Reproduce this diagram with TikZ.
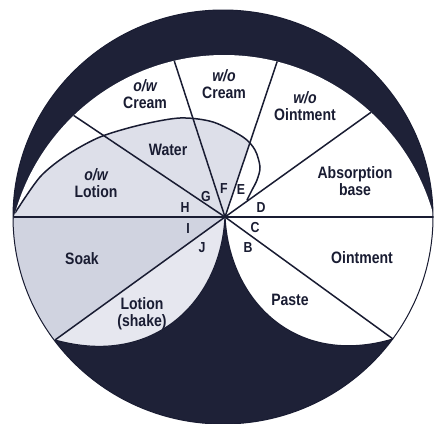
\documentclass[tikz,border=0pt]{standalone}
\usepackage{fontspec}
\setmainfont{Liberation Sans}
\newfontfamily\labfont[FakeStretch=0.85]{Liberation Sans}
\usetikzlibrary{calc}
\definecolor{ink}{RGB}{25,28,50}
\definecolor{darkfill}{RGB}{30,33,55}
\definecolor{shadeA}{RGB}{221,223,233}
\definecolor{shadeB}{RGB}{208,211,224}
\definecolor{shadeC}{RGB}{230,231,239}
\begin{document}
\begin{tikzpicture}[x=1pt,y=-1pt,
  lab/.style={font=\labfont\bfseries\fontsize{16.5}{17}\selectfont, text=ink, align=center, inner sep=0pt},
  letter/.style={font=\labfont\bfseries\fontsize{14.5}{15}\selectfont, text=ink, inner sep=0pt},
  spoke/.style={draw=ink, line width=1.5pt},
  edge/.style={draw=ink, line width=1.2pt},
]
\useasboundingbox (0,0) rectangle (435,423);
\fill[white] (0,0) rectangle (435,423);
\coordinate (O) at (225,217);
\coordinate (C) at (223,217);
\coordinate (IC) at (224,272);
\coordinate (LL) at (55,340);
\coordinate (LR) at (393,339);
% dark disc
\fill[darkfill] (C) ellipse [x radius=210pt, y radius=207pt];
\begin{scope}
  \clip (C) ellipse [x radius=210pt, y radius=207pt];
  \clip (IC) circle [radius=217pt];
  % white area
  \fill[white] (0,0) -- (435,0) -- (435,339) -- (LR) .. controls (295,368) and (229,300) .. (O)
     .. controls (221,300) and (155,368) .. (LL) -- (0,340) -- cycle;
  % Soak
  \fill[shadeB] (0,217) -- (O) -- (LL) -- (0,340) -- cycle;
  % Lotion (shake)
  \fill[shadeC] (O) .. controls (221,300) and (155,368) .. (LL) -- cycle;
  % water / o/w lotion
  \begin{scope}
    \clip (O) -- (298,0) -- (0,0) -- (0,217) -- cycle;
    \fill[shadeA] plot[smooth] coordinates {(15,213) (40,177) (67,155) (100,137) (140,125) (180,118) (213,122) (243,137) (255,150) (260,167) (257,180) (252,190) (247,200)} -- (O) -- (0,217) -- cycle;
  \end{scope}
  % spokes
  \draw[spoke] (0,217) -- (435,217);
  \draw[spoke] (O) -- ($(O)!1.2!(73,115)$);
  \draw[spoke] (O) -- ($(O)!1.2!(370,113)$);
  \draw[spoke] (O) -- ($(O)!1.2!(173,57)$);
  \draw[spoke] (O) -- ($(O)!1.2!(277,62)$);
  \draw[spoke] (O) -- (LL);
  \draw[spoke] (O) -- (LR);
  % water curve
  \draw[spoke] plot[smooth] coordinates {(15,213) (40,177) (67,155) (100,137) (140,125) (180,118) (213,122) (243,137) (255,150) (260,167) (257,180) (252,190) (247,200)};
\end{scope}
\draw[edge] (LR) .. controls (295,368) and (229,300) .. (O) .. controls (221,300) and (155,368) .. (LL);
\draw[ink, line width=1pt] (C) ellipse [x radius=210pt, y radius=207pt];
% labels
\node[lab] (owcream) at (145,94) {{\itshape o/w}\\Cream};
\node[lab] (wocream) at (224,84) {{\itshape w/o}\\Cream};
\node[lab] (woint) at (305,106) {{\itshape w/o}\\Ointment};
\node[lab] (absorb) at (355,181) {Absorption\\base};
\node[lab] (water) at (168,150) {Water};
\node[lab] (owlotion) at (96,183) {{\itshape o/w}\\Lotion};
\node[lab] (soak) at (82,259) {Soak};
\node[lab] (shake) at (142,314) {Lotion\\(shake)};
\node[lab] (ointment) at (362,258) {Ointment};
\node[lab] (paste) at (290,300) {Paste};
% letters
\node[letter] (lG) at (206,197) {G};
\node[letter] (lF) at (224,189) {F};
\node[letter] (lE) at (241,190) {E};
\node[letter] (lD) at (261,208) {D};
\node[letter] (lH) at (185,208) {H};
\node[letter] (lI) at (188,229) {I};
\node[letter] (lJ) at (202,248) {J};
\node[letter] (lC) at (255,228) {C};
\node[letter] (lB) at (248,248) {B};
\end{tikzpicture}
\end{document}
